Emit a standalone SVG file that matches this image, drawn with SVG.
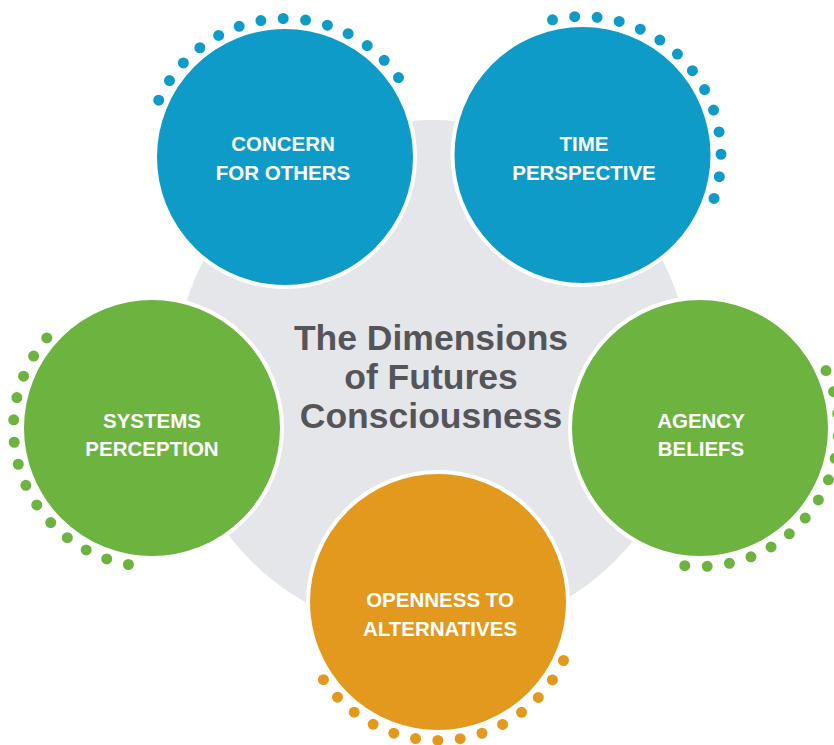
<svg xmlns="http://www.w3.org/2000/svg" width="834" height="745" viewBox="0 0 834 745">
<style>
.bg{fill:#e5e6e9}
.node{stroke:#ffffff;stroke-width:4}
.blue{fill:#0f9bc8}
.green{fill:#6cb33f}
.orange{fill:#e2991e}
.dots{fill:none;stroke-width:11;stroke-linecap:round;stroke-dasharray:0 22.44}
.lbl{font-family:"Liberation Sans",Arial,sans-serif;font-weight:bold;font-size:20.5px;fill:#ffffff;text-anchor:middle}
.title{font-family:"Liberation Sans",Arial,sans-serif;font-weight:bold;font-size:35.5px;fill:#555559;text-anchor:middle}
</style>
<rect width="834" height="745" fill="#ffffff"/>
<g id="center">
<circle class="bg" cx="433" cy="378" r="258"/>
<text class="title" x="431" y="350">The Dimensions</text>
<text class="title" x="431" y="389">of Futures</text>
<text class="title" x="431" y="428">Consciousness</text>
</g>
<g id="concern">
<path class="dots" stroke="#0f9bc8" d="M158.7,100.2 A138.5,138.5 0 0 1 409.7,96.7"/>
<circle class="node blue" cx="285" cy="157" r="130"/>
<text class="lbl" x="283" y="151">CONCERN</text>
<text class="lbl" x="283" y="179.5">FOR OTHERS</text>
</g>
<g id="time">
<path class="dots" stroke="#0f9bc8" d="M552.5,19.8 A138.5,138.5 0 0 1 705.4,218.9"/>
<circle class="node blue" cx="582.5" cy="155" r="130"/>
<text class="lbl" x="584" y="151">TIME</text>
<text class="lbl" x="584" y="179.5">PERSPECTIVE</text>
</g>
<g id="systems">
<path class="dots" stroke="#6cb33f" d="M128.4,564.5 A138.5,138.5 0 0 1 62.6,322.2"/>
<circle class="node green" cx="152" cy="428" r="130"/>
<text class="lbl" x="152" y="427.5">SYSTEMS</text>
<text class="lbl" x="152" y="456">PERCEPTION</text>
</g>
<g id="agency">
<path class="dots" stroke="#6cb33f" d="M826,370.6 A138.5,138.5 0 0 1 663,561.5"/>
<circle class="node green" cx="700" cy="428" r="130"/>
<text class="lbl" x="701" y="427.5">AGENCY</text>
<text class="lbl" x="701" y="456">BELIEFS</text>
</g>
<g id="openness">
<path class="dots" stroke="#e2991e" d="M563.5,660.5 A138.5,138.5 0 0 1 312.5,660.5"/>
<circle class="node orange" cx="438" cy="602" r="130"/>
<text class="lbl" x="440" y="607">OPENNESS TO</text>
<text class="lbl" x="440" y="635.5">ALTERNATIVES</text>
</g>
<g id="connectors"></g>
</svg>
